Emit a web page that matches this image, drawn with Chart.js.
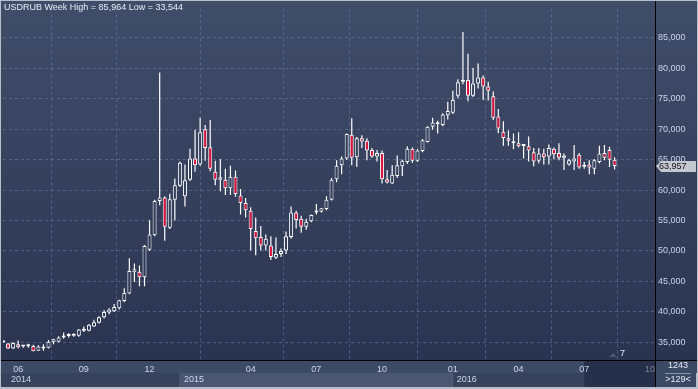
<!DOCTYPE html>
<html>
<head>
<meta charset="utf-8">
<script src="https://cdn.jsdelivr.net/npm/chart.js@4.4.0/dist/chart.umd.min.js"></script>
<style>
html, body { margin: 0; padding: 0; background: #2b3550; }
canvas { display: block; }
</style>
</head>
<body>
<canvas id="chart" width="698" height="389"></canvas>
<script>
// weekly USDRUB candles, one entry per week
const opens = [35.1, 34.8, 34.0, 34.7, 34.3, 34.35, 34.4, 33.6, 34.0, 34.1,
    35.0, 35.1, 35.8, 36.05, 36.1, 36.1, 36.9, 36.9, 37.6, 38.2,
    39.1, 39.9, 40.1, 40.6, 41.8, 43.0, 46.5, 46.6, 45.7, 50.2,
    52.6, 58.2, 58.8, 53.8, 58.4, 60.7, 59.0, 61.7, 65.2, 64.2,
    70.0, 67.05, 63.0, 62.1, 61.7, 60.3, 62.2, 59.1, 57.9, 56.6,
    53.3, 52.3, 50.9, 50.9, 48.9, 49.5, 50.1, 52.3, 56.3, 55.3,
    54.0, 54.9, 56.3, 56.45, 56.9, 58.4, 61.8, 64.1, 65.2, 69.1,
    65.4, 68.5, 68.1, 66.6, 65.5, 66.1, 61.8, 61.1, 62.3, 63.9,
    64.6, 66.8, 64.8, 66.4, 67.9, 70.4, 71.1, 70.7, 72.3, 72.7,
    75.5, 77.8, 78.1, 75.5, 77.5, 78.5, 77.0, 75.4, 72.1, 69.6,
    68.5, 68.0, 67.7, 67.25, 67.2, 66.2, 64.8, 66.0, 65.5, 66.8,
    66.1, 65.3, 64.2, 64.7, 65.8, 63.85, 64.2, 63.5, 64.6, 66.1,
    66.6, 65.0];
const highs = [35.2, 34.9, 35.0, 35.3, 34.5, 34.7, 34.6, 34.5, 34.7, 35.4,
    35.6, 36.0, 36.6, 36.5, 36.5, 37.2, 37.6, 38.0, 38.7, 39.3,
    40.3, 40.6, 41.3, 42.0, 43.9, 48.8, 47.95, 47.6, 51.0, 55.05,
    58.4, 79.3, 59.0, 59.4, 61.9, 64.7, 64.2, 66.8, 69.9, 71.9,
    70.7, 71.5, 64.8, 65.1, 63.5, 64.0, 63.2, 60.2, 58.7, 57.2,
    55.5, 54.1, 52.7, 52.4, 52.2, 50.4, 53.2, 57.3, 56.6, 55.8,
    55.3, 56.0, 57.7, 57.0, 59.0, 62.0, 64.9, 65.5, 69.3, 71.8,
    68.7, 69.0, 68.5, 66.9, 66.6, 66.5, 63.3, 64.1, 65.7, 65.0,
    67.2, 67.0, 66.7, 68.4, 70.5, 71.9, 71.4, 72.6, 74.5, 76.3,
    78.2, 85.964, 82.4, 80.05, 80.8, 78.8, 77.8, 76.2, 73.3, 71.3,
    69.8, 69.3, 69.5, 67.5, 68.8, 66.9, 66.9, 66.8, 67.5, 67.0,
    67.7, 66.0, 65.15, 67.4, 66.1, 64.6, 64.9, 65.1, 67.3, 67.4,
    67.1, 65.4];
const lows = [34.9, 33.9, 33.9, 34.0, 34.1, 34.1, 33.544, 33.6, 33.6, 34.0,
    34.7, 35.0, 35.6, 35.8, 35.9, 35.9, 36.7, 36.8, 37.5, 38.1,
    38.9, 39.6, 40.0, 40.4, 41.6, 42.9, 44.9, 44.2, 44.2, 50.0,
    52.4, 57.5, 51.7, 53.6, 55.0, 60.5, 57.3, 61.5, 63.0, 64.0,
    64.8, 63.1, 60.8, 59.8, 59.2, 59.2, 58.9, 56.0, 55.5, 50.1,
    49.3, 50.1, 50.1, 48.5, 48.7, 49.0, 49.5, 52.0, 53.7, 53.0,
    53.5, 54.7, 56.0, 56.3, 56.7, 58.3, 61.3, 62.6, 65.0, 64.1,
    63.8, 66.9, 64.9, 65.3, 64.7, 61.1, 61.1, 61.0, 62.0, 62.3,
    64.3, 64.5, 64.6, 66.2, 67.8, 69.9, 69.3, 70.5, 71.6, 72.5,
    75.1, 77.4, 74.6, 75.3, 76.7, 74.8, 74.7, 71.5, 69.35, 67.3,
    67.3, 66.7, 67.0, 65.2, 64.7, 63.9, 64.4, 64.2, 64.2, 65.05,
    64.9, 63.3, 64.0, 63.3, 63.5, 63.5, 62.6, 62.6, 64.4, 64.9,
    63.8, 63.4];
const closes = [35.0, 34.0, 34.9, 34.2, 34.35, 34.45, 33.55, 34.3, 34.3, 35.1,
    35.5, 35.8, 36.1, 36.15, 36.2, 37.1, 37.1, 37.9, 38.3, 39.1,
    40.0, 40.4, 40.8, 41.9, 43.1, 46.7, 47.0, 45.7, 50.8, 52.7,
    58.2, 58.8, 54.0, 58.5, 60.8, 64.5, 61.6, 65.2, 64.1, 69.5,
    66.9, 63.5, 61.7, 61.7, 60.3, 62.2, 59.35, 57.9, 56.7, 53.6,
    52.1, 50.9, 52.0, 49.0, 49.5, 50.0, 52.4, 56.3, 55.1, 54.0,
    54.8, 55.9, 56.5, 57.0, 58.4, 61.7, 64.0, 65.2, 69.2, 65.3,
    68.5, 68.0, 66.5, 65.5, 66.1, 61.8, 61.25, 62.5, 64.1, 64.8,
    66.8, 64.8, 66.5, 68.2, 70.4, 71.1, 70.8, 72.4, 73.0, 74.8,
    77.7, 78.1, 75.5, 77.5, 78.5, 77.0, 76.3, 71.9, 70.1, 68.55,
    68.1, 67.7, 67.2, 67.35, 66.5, 64.7, 66.0, 65.4, 66.9, 65.9,
    65.3, 65.7, 64.9, 65.2, 63.7, 63.95, 63.7, 64.9, 66.0, 65.3,
    65.0, 63.957];

const slotCount = 130;                 // weeks shown on the axis (8 empty at the right)
const weeks = Array.from({length: slotCount}, (_, i) => 'W' + i);
const monthTickIdx = [3, 16, 29, 49, 62, 75, 89, 102, 115, 128];
const monthTickText = ['06', '09', '12', '04', '07', '10', '01', '04', '07', '10'];
const years = ['2014', '2015', '2016'];
const yearStartIdx = [0, 35, 89];
const yTicks = [35, 40, 45, 50, 55, 60, 65, 70, 75, 80, 85];
const symbol = 'USDRUB';
const period = 'Week';

const fmt = v => v.toFixed(3).replace('.', ',');

const canvas = document.getElementById('chart');
const ctx2d = canvas.getContext('2d');
const plotGrad = ctx2d.createLinearGradient(0, 0, 0, 360);
plotGrad.addColorStop(0, '#404d69');
plotGrad.addColorStop(1, '#2a3451');

const UP_FILL = plotGrad;
const DOWN_FILL = '#dc143c';
const LABEL_COLOR = '#c9d5ea';

const bgPlugin = {
    id: 'bg',
    beforeDraw(chart) {
        const {ctx, chartArea: a, scales: {x}} = chart;
        ctx.save();
        ctx.fillStyle = '#b7bfcc';
        ctx.fillRect(0, 0, 698, 389);
        ctx.fillStyle = plotGrad;
        ctx.fillRect(1, 1, 696, a.bottom - 1);
        // month row of the x axis
        ctx.fillStyle = '#3d4a65';
        ctx.fillRect(1, a.bottom, 696, 13);
        // year bands
        const bandCols = ['#37435d', '#4b5772', '#37435d'];
        years.forEach((y, k) => {
            const x0 = k === 0 ? 1 : x.getPixelForValue(yearStartIdx[k]);
            const x1 = k === years.length - 1 ? a.right : x.getPixelForValue(yearStartIdx[k + 1]);
            ctx.fillStyle = bandCols[k];
            ctx.fillRect(x0, a.bottom + 13, x1 - x0, 389 - 2 - a.bottom - 13);
        });
        // shaded right part of the time axis
        const xs = x.getPixelForValue(115);
        ctx.fillStyle = '#26304a';
        ctx.fillRect(xs, a.bottom, a.right - xs, 389 - 2 - a.bottom);
        // corner box
        ctx.fillStyle = '#3b4863';
        ctx.fillRect(a.right, a.bottom, 698 - 2 - a.right, 389 - 2 - a.bottom);
        ctx.restore();
    },
    afterDraw(chart) {
        const {ctx, chartArea: a, scales: {x, y}} = chart;
        ctx.save();
        ctx.strokeStyle = '#000000';
        ctx.lineWidth = 1;
        ctx.beginPath();
        ctx.moveTo(a.right + 0.5, 1);
        ctx.lineTo(a.right + 0.5, 387);
        ctx.moveTo(1, a.bottom + 0.5);
        ctx.lineTo(697, a.bottom + 0.5);
        ctx.stroke();

        ctx.font = '9px "Liberation Sans"';
        ctx.textBaseline = 'middle';
        // title
        ctx.fillStyle = '#e6ecf6';
        const hi = Math.max(...highs), lo = Math.min(...lows);
        ctx.fillText(symbol + ' ' + period + ' High = ' + fmt(hi) + ' Low = ' + fmt(lo), 4, 8);

        // year labels
        ctx.fillStyle = LABEL_COLOR;
        years.forEach((yr, k) => {
            const x0 = k === 0 ? 1 : x.getPixelForValue(yearStartIdx[k]);
            ctx.fillText(yr, x0 + (k === 0 ? 10 : 4), a.bottom + 20);
        });

        // last price tag
        const last = closes[closes.length - 1];
        const py = Math.round(y.getPixelForValue(last));
        ctx.fillStyle = '#c4c8d0';
        ctx.beginPath();
        ctx.moveTo(a.right + 1, py);
        ctx.lineTo(a.right + 6, py - 5);
        ctx.lineTo(696, py - 5);
        ctx.lineTo(696, py + 6);
        ctx.lineTo(a.right + 6, py + 6);
        ctx.closePath();
        ctx.fill();
        ctx.fillStyle = '#111111';
        ctx.fillText(fmt(last), a.right + 4, py + 1);

        // corner counters
        ctx.fillStyle = '#e6ecf6';
        ctx.textAlign = 'center';
        ctx.fillText('1243', 678, a.bottom + 6);
        ctx.fillText('>129<', 678, a.bottom + 20);
        ctx.strokeStyle = '#8d96a8';
        ctx.beginPath();
        ctx.moveTo(665, a.bottom + 13.5);
        ctx.lineTo(691, a.bottom + 13.5);
        ctx.stroke();

        // shift marker
        ctx.fillStyle = '#4d576f';
        ctx.beginPath();
        ctx.moveTo(609, a.bottom - 3);
        ctx.lineTo(613, a.bottom - 7);
        ctx.lineTo(617, a.bottom - 3);
        ctx.closePath();
        ctx.fill();
        ctx.fillStyle = '#e6ecf6';
        ctx.textAlign = 'left';
        ctx.fillText('7', 620, a.bottom - 6);
        ctx.restore();
    }
};

Chart.defaults.font.family = '"Liberation Sans", Arial, sans-serif';
Chart.defaults.font.size = 9;

const config = {
    type: 'bar',
    data: {
        labels: weeks,
        datasets: [
            {
                label: 'body',
                data: opens.map((o, i) => [o, closes[i]]),
                backgroundColor: (c) => closes[c.dataIndex] >= opens[c.dataIndex] ? UP_FILL : DOWN_FILL,
                borderColor: '#ffffff',
                borderWidth: 1,
                borderSkipped: false,
                barThickness: 4,
                minBarLength: 2,
                inflateAmount: 0,
                grouped: false,
                order: 0,
            },
            {
                label: 'wick',
                data: lows.map((l, i) => [l, highs[i]]),
                backgroundColor: '#ffffff',
                borderWidth: 0,
                barThickness: 1.2,
                inflateAmount: 0,
                grouped: false,
                order: 1,
            }
        ]
    },
    options: {
        responsive: false,
        animation: false,
        devicePixelRatio: 1,
        layout: {padding: {left: 3, top: 2, right: 0, bottom: 0}},
        plugins: {
            legend: {display: false},
            tooltip: {enabled: false},
        },
        scales: {
            x: {
                type: 'category',
                offset: false,
                afterBuildTicks: (scale) => {
                    scale.ticks = monthTickIdx.map(v => ({value: v}));
                },
                afterFit: (scale) => { scale.height = 29; },
                grid: {color: 'rgba(125,140,175,0.45)', lineWidth: 1, drawTicks: false, borderDash: [3, 3]},
                border: {display: false, dash: [3, 3]},
                ticks: {
                    autoSkip: false,
                    maxRotation: 0,
                    padding: 4,
                    color: (c) => c.index === monthTickText.length - 1 ? '#7c869a' : LABEL_COLOR,
                    callback: (value, index) => monthTickText[index],
                },
            },
            y: {
                type: 'linear',
                position: 'right',
                min: 32.097,
                max: 89.839,
                afterBuildTicks: (scale) => {
                    scale.ticks = yTicks.map(v => ({value: v}));
                },
                afterFit: (scale) => { scale.width = 43; },
                grid: {color: 'rgba(125,140,175,0.45)', lineWidth: 1, drawTicks: false, borderDash: [3, 3]},
                border: {display: false, dash: [3, 3]},
                ticks: {
                    padding: 3,
                    color: LABEL_COLOR,
                    callback: (value) => fmt(value),
                },
            }
        }
    },
    plugins: [bgPlugin]
};

const usdChart = new Chart(canvas, config);
</script>
</body>
</html>
